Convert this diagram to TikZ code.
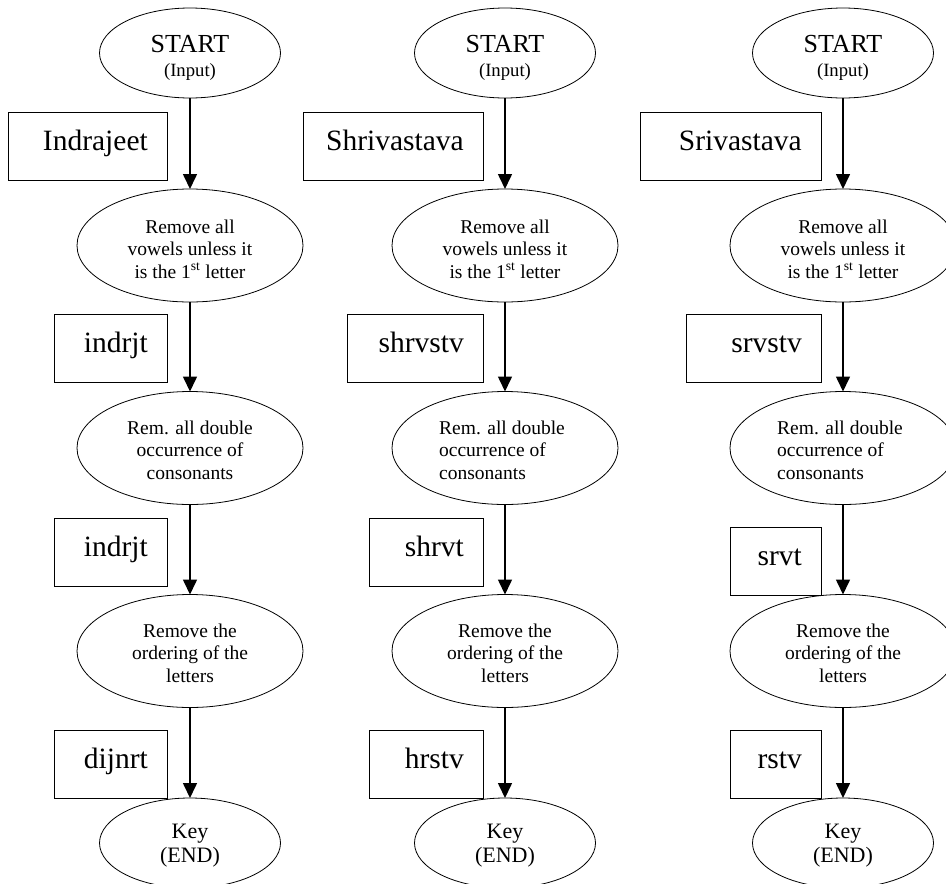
\documentclass[tikz,border=0pt]{standalone}
\usepackage{fontspec}
\setmainfont{Liberation Serif}
\usetikzlibrary{shapes.geometric,arrows.meta}
\begin{document}
\begin{tikzpicture}[x=1pt,y=-1pt,
  stage/.style={draw, ellipse, line width=0.8pt, inner sep=0pt, outer sep=0pt,
                minimum width=226pt, minimum height=113pt},
  term/.style={stage, minimum width=181pt, minimum height=90pt},
  word/.style={draw, rectangle, line width=0.8pt, inner sep=0pt, outer sep=0pt,
               minimum height=68pt, anchor=north west},
  wordtext/.style={anchor=base east, inner sep=0pt, font=\fontsize{29.5}{30}\selectfont},
  steptext/.style={anchor=north, align=center, inner sep=0pt,
                   font=\fontsize{19.5}{22.5}\selectfont},
  keytext/.style={anchor=north, align=center, inner sep=0pt,
                  font=\fontsize{22}{24}\selectfont},
  flow/.style={line width=1.6pt, -{Triangle[width=14pt,length=15pt]}},
]
\useasboundingbox (0,0) rectangle (946,884);

% the three flow charts: ellipses, arrows and the texts inside
\foreach \c/\x in {1/190, 2/505, 3/843} {
  \node[term]  (s\c) at (\x,53)    {};
  \node[stage] (v\c) at (\x,245.5) {};
  \node[stage] (d\c) at (\x,448)   {};
  \node[stage] (o\c) at (\x,651)   {};
  \node[term]  (k\c) at (\x,843)   {};
  \draw[flow] (s\c) -- (v\c);
  \draw[flow] (v\c) -- (d\c);
  \draw[flow] (d\c) -- (o\c);
  \draw[flow] (o\c) -- (k\c);
  \node[anchor=base, inner sep=0pt, font=\fontsize{26}{26}\selectfont] (st\c) at (\x,52) {START};
  \node[anchor=base, inner sep=0pt, font=\fontsize{18.7}{20}\selectfont] (in\c) at (\x,76) {(Input)};
  \node[steptext] (vt\c) at (\x,219.7) {Remove all\\vowels unless it\\is the 1\textsuperscript{st} letter};
  \node[steptext] (ot\c) at (\x,623.7) {Remove the\\ordering of the\\letters};
  \node[keytext]  (kt\c) at (\x,824)   {Key\\(END)};
}
\node[steptext]             (dt1) at (190,420.7) {Rem. all double\\occurrence of\\consonants};
\node[steptext, align=left] (dt2) at (502,420.7) {Rem. all double\\occurrence of\\consonants};
\node[steptext, align=left] (dt3) at (840,420.7) {Rem. all double\\occurrence of\\consonants};

% intermediate words beside the arrows
\node[word, minimum width=159pt] (b11) at (8,112)   {};
\node[word, minimum width=113pt] (b12) at (54,314)  {};
\node[word, minimum width=113pt] (b13) at (54,518)  {};
\node[word, minimum width=113pt] (b14) at (54,730)  {};
\node[word, minimum width=180pt] (b21) at (303,112) {};
\node[word, minimum width=136pt] (b22) at (347,314) {};
\node[word, minimum width=114pt] (b23) at (369,518) {};
\node[word, minimum width=114pt] (b24) at (369,730) {};
\node[word, minimum width=181pt] (b31) at (640,112) {};
\node[word, minimum width=135pt] (b32) at (686,314) {};
\node[word, minimum width=91pt]  (b33) at (730,527) {};
\node[word, minimum width=91pt]  (b34) at (730,730) {};

\foreach \b/\w in {11/Indrajeet, 12/indrjt, 13/indrjt, 14/dijnrt,
                   21/Shrivastava, 22/shrvstv, 23/shrvt, 24/hrstv,
                   31/Srivastava, 32/srvstv, 33/srvt, 34/rstv} {
  \node[wordtext] (w\b) at ([xshift=-19pt,yshift=-38pt]b\b.north east) {\w};
}
\end{tikzpicture}
\end{document}
